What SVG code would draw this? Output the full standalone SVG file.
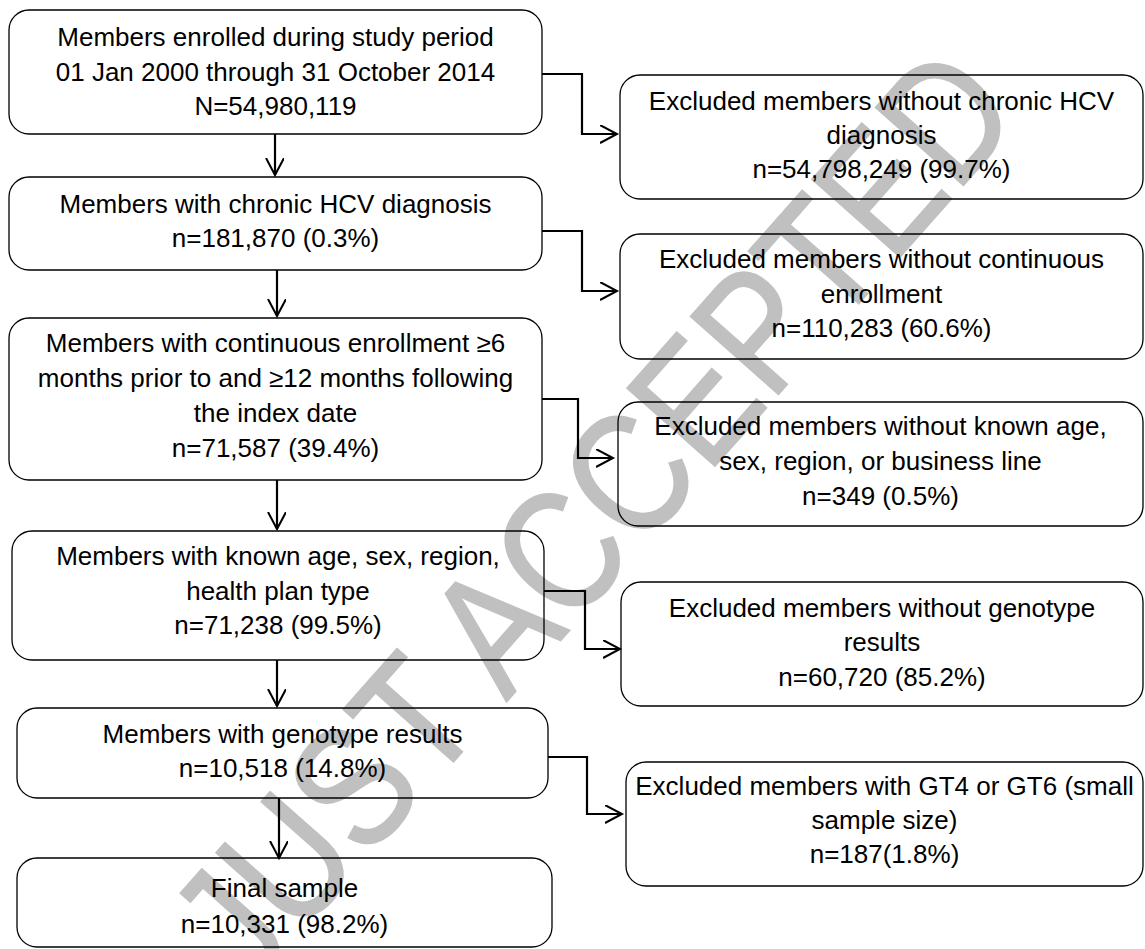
<svg xmlns="http://www.w3.org/2000/svg" width="1145" height="949" viewBox="0 0 1145 949">
<defs>
<marker id="arr" markerWidth="20" markerHeight="20" refX="17" refY="9" orient="auto" markerUnits="userSpaceOnUse"><path d="M0,0 L17,9 L0,18" fill="none" stroke="#000" stroke-width="2"/></marker>
<style>
.box{fill:none;stroke:#000;stroke-width:1.3}
.t{font-family:"Liberation Sans",Arial,sans-serif;font-size:26px;fill:#000;text-anchor:middle}
.c{fill:none;stroke:#000;stroke-width:2.2;marker-end:url(#arr)}
.wm{font-family:"Liberation Sans",Arial,sans-serif;font-size:170px;fill:#c0c0c0;stroke:#c0c0c0;stroke-width:2;text-anchor:middle}
</style>
</defs>
<rect width="1145" height="949" fill="#fff"/>
<text class="wm" transform="translate(592,515) rotate(-48.5)" dy="0.35em" textLength="1170" lengthAdjust="spacingAndGlyphs">JUST ACCEPTED</text>
<g id="connectors">
<path class="c" d="M542,74 H582 V134 H617"/>
<path class="c" d="M542,231 H582 V291 H617"/>
<path class="c" d="M542,399 H578 V458 H613"/>
<path class="c" d="M544,591 H585 V649 H620"/>
<path class="c" d="M548,757 H587 V814 H622"/>
<path class="c" d="M275,134 V175"/>
<path class="c" d="M277,270 V316"/>
<path class="c" d="M277,480 V529"/>
<path class="c" d="M277,660 V706"/>
<path class="c" d="M279,798 V858"/>
</g>
<g id="n1"><rect class="box" x="9" y="10" width="533" height="124" rx="20"/>
<text class="t" x="275.5" y="46">Members enrolled during study period</text>
<text class="t" x="275.5" y="81">01 Jan 2000 through 31 October 2014</text>
<text class="t" x="275.5" y="115">N=54,980,119</text></g>
<g id="n2"><rect class="box" x="9" y="177" width="533" height="93" rx="20"/>
<text class="t" x="275.5" y="213">Members with chronic HCV diagnosis</text>
<text class="t" x="275.5" y="247">n=181,870 (0.3%)</text></g>
<g id="n3"><rect class="box" x="9" y="318" width="533" height="162" rx="20"/>
<text class="t" x="275.5" y="352">Members with continuous enrollment ≥6</text>
<text class="t" x="275.5" y="387">months prior to and ≥12 months following</text>
<text class="t" x="275.5" y="422">the index date</text>
<text class="t" x="275.5" y="457">n=71,587 (39.4%)</text></g>
<g id="n4"><rect class="box" x="12" y="531" width="532" height="129" rx="20"/>
<text class="t" x="278" y="565">Members with known age, sex, region,</text>
<text class="t" x="278" y="600">health plan type</text>
<text class="t" x="278" y="634">n=71,238 (99.5%)</text></g>
<g id="n5"><rect class="box" x="17" y="708" width="531" height="90" rx="20"/>
<text class="t" x="282.5" y="743">Members with genotype results</text>
<text class="t" x="282.5" y="777">n=10,518 (14.8%)</text></g>
<g id="n6"><rect class="box" x="17" y="858" width="535" height="89" rx="20"/>
<text class="t" x="284.5" y="897">Final sample</text>
<text class="t" x="284.5" y="933">n=10,331 (98.2%)</text></g>
<g id="e1"><rect class="box" x="620" y="75" width="523" height="124" rx="20"/>
<text class="t" x="881.5" y="110">Excluded members without chronic HCV</text>
<text class="t" x="881.5" y="144">diagnosis</text>
<text class="t" x="881.5" y="178">n=54,798,249 (99.7%)</text></g>
<g id="e2"><rect class="box" x="620" y="234" width="523" height="125" rx="20"/>
<text class="t" x="881.5" y="268">Excluded members without continuous</text>
<text class="t" x="881.5" y="303">enrollment</text>
<text class="t" x="881.5" y="337">n=110,283 (60.6%)</text></g>
<g id="e3"><rect class="box" x="618" y="402" width="525" height="124" rx="20"/>
<text class="t" x="880.5" y="435">Excluded members without known age,</text>
<text class="t" x="880.5" y="470">sex, region, or business line</text>
<text class="t" x="880.5" y="505">n=349 (0.5%)</text></g>
<g id="e4"><rect class="box" x="621" y="582" width="522" height="124" rx="20"/>
<text class="t" x="882" y="617">Excluded members without genotype</text>
<text class="t" x="882" y="651">results</text>
<text class="t" x="882" y="686">n=60,720 (85.2%)</text></g>
<g id="e5"><rect class="box" x="626" y="762" width="517" height="124" rx="20"/>
<text class="t" x="884.5" y="795">Excluded members with GT4 or GT6 (small</text>
<text class="t" x="884.5" y="829">sample size)</text>
<text class="t" x="884.5" y="863">n=187(1.8%)</text></g>
</svg>
